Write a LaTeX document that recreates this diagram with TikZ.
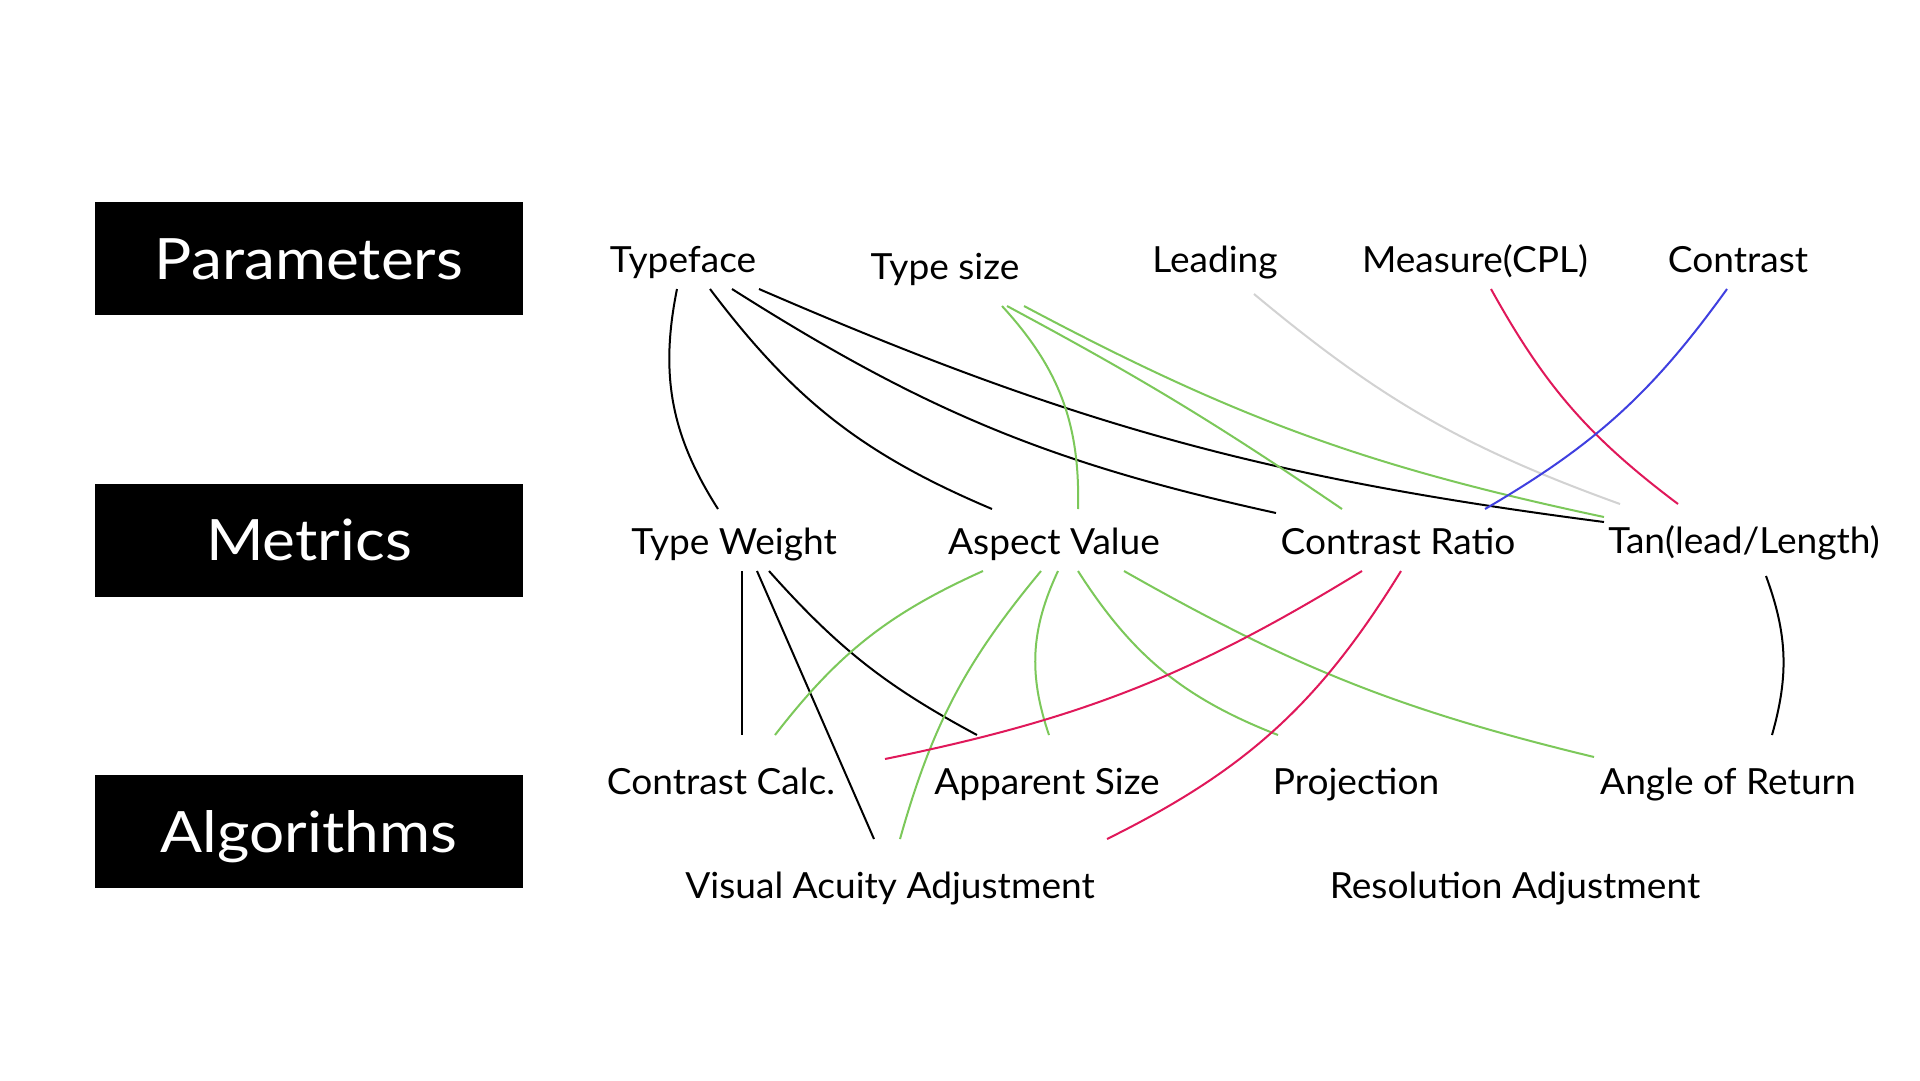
\documentclass[tikz,border=0pt]{standalone}
\usepackage{fontspec}
\setmainfont[FakeStretch=1.03]{Lato}
\newfontfamily\boxfont[FakeStretch=1.09]{Lato}
\definecolor{lgreen}{HTML}{7CC85A}
\definecolor{crim}{HTML}{E0185A}
\definecolor{lblue}{HTML}{3F3FE0}
\definecolor{lgray}{HTML}{D2D2D2}
\begin{document}
\begin{tikzpicture}[x=1pt,y=-1pt,
  lbl/.style={font=\fontsize{36}{40}\selectfont, inner sep=0pt, anchor=base},
  cat/.style={fill=black, text=white, minimum width=428pt, minimum height=113pt,
    inner sep=0pt, text height=41pt, text depth=0pt, font=\boxfont\fontsize{57}{60}\selectfont},
  blk/.style={line width=2pt, black},
  grn/.style={line width=2pt, lgreen},
  red/.style={line width=2pt, crim},
  blu/.style={line width=2pt, lblue},
  gry/.style={line width=2pt, lgray}]
\useasboundingbox[fill=white] (0,0) rectangle (1920,1080);

\node[cat] (par) at (309,258.5) {Parameters};
\node[cat] (met) at (309,540) {Metrics};
\node[cat] (alg) at (309,831.5) {Algorithms};

\node[lbl] (tf)  at (683,272) {Typeface};
\node[lbl] (ts)  at (945,279) {Type size};
\node[lbl] (ld)  at (1215,272) {Leading};
\node[lbl] (ms)  at (1475,272) {Measure(CPL)};
\node[lbl] (ct)  at (1738,272) {Contrast};

\node[lbl] (tw)  at (734,554) {Type Weight};
\node[lbl] (av)  at (1054,554) {Aspect Value};
\node[lbl] (cr)  at (1398,554) {Contrast Ratio};
\node[lbl] (tan) at (1744,553) {Tan(lead/Length)};

\node[lbl] (cc)  at (721,794) {Contrast Calc.};
\node[lbl] (as)  at (1047,794) {Apparent Size};
\node[lbl] (pj)  at (1356,794) {Projection};
\node[lbl] (ar)  at (1728,794) {Angle of Return};
\node[lbl] (va)  at (890,898) {Visual Acuity Adjustment};
\node[lbl] (ra)  at (1515,898) {Resolution Adjustment};

% Parameters -> Metrics
\draw[blk] ([shift={(-6,17)}]tf.base) to[bend right=22] ([shift={(-16,-45)}]tw.base);
\draw[blk] ([shift={(27,17)}]tf.base) to[bend right=15] ([shift={(-62,-45)}]av.base);
\draw[blk] ([shift={(49,17)}]tf.base) to[bend right=10] ([shift={(-122,-41)}]cr.base);
\draw[blk] ([shift={(76,17)}]tf.base) to[bend right=8] ([shift={(-140,-31)}]tan.base);

\draw[grn] ([shift={(57,27)}]ts.base) to[bend left=22] ([shift={(24,-45)}]av.base);
\draw[grn] ([shift={(62,27)}]ts.base) to[bend left=3] ([shift={(-56,-45)}]cr.base);
\draw[grn] ([shift={(79,27)}]ts.base) to[bend right=8] ([shift={(-140,-36)}]tan.base);

\draw[gry] ([shift={(39,22)}]ld.base) to[bend right=10] ([shift={(-124,-49)}]tan.base);
\draw[red] ([shift={(16,17)}]ms.base) to[bend right=12] ([shift={(-66,-49)}]tan.base);
\draw[blu] ([shift={(-11,17)}]ct.base) to[bend left=12] ([shift={(87,-45)}]cr.base);

% Metrics -> Algorithms
\draw[blk] ([shift={(8,17)}]tw.base) -- ([shift={(21,-59)}]cc.base);
\draw[blk] ([shift={(23,17)}]tw.base) -- ([shift={(-16,-59)}]va.base);
\draw[blk] ([shift={(35,17)}]tw.base) to[bend right=10] ([shift={(-70,-59)}]as.base);

\draw[grn] ([shift={(-71,17)}]av.base) to[bend right=14] ([shift={(54,-59)}]cc.base);
\draw[grn] ([shift={(-13,17)}]av.base) to[bend right=12] ([shift={(10,-59)}]va.base);
\draw[grn] ([shift={(4,17)}]av.base) to[bend right=22] ([shift={(2,-59)}]as.base);
\draw[grn] ([shift={(24,17)}]av.base) to[bend right=18] ([shift={(-78,-59)}]pj.base);
\draw[grn] ([shift={(70,17)}]av.base) to[bend right=8] ([shift={(-134,-37)}]ar.base);

\draw[red] ([shift={(-36,17)}]cr.base) to[bend left=10] ([shift={(164,-35)}]cc.base);
\draw[red] ([shift={(3,17)}]cr.base) to[bend left=16] ([shift={(217,-59)}]va.base);

\draw[blk] ([shift={(22,23)}]tan.base) to[bend left=18] ([shift={(44,-59)}]ar.base);
\end{tikzpicture}
\end{document}
